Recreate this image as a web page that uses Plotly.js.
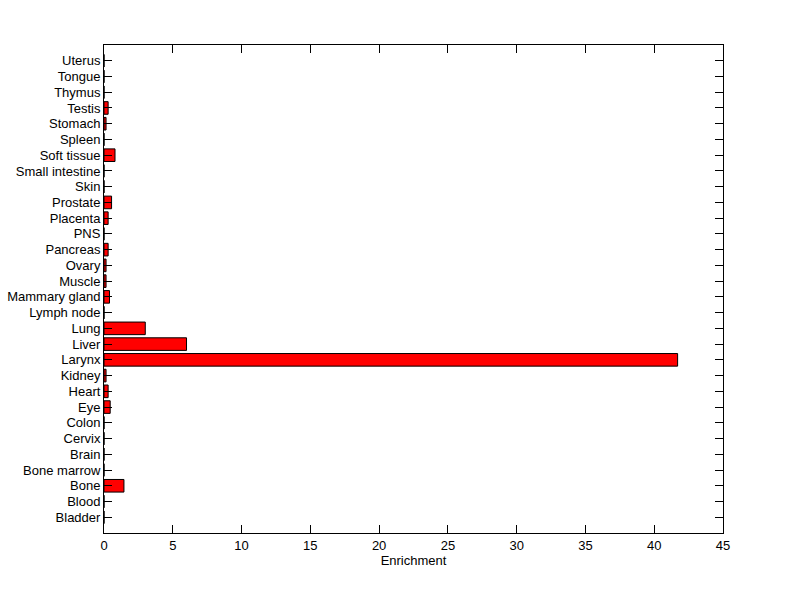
<!DOCTYPE html>
<html>
<head>
<meta charset="utf-8">
<script src="https://cdn.plot.ly/plotly-3.0.1.min.js"></script>
<style>html,body{margin:0;padding:0;background:#fff;}#chart{width:800px;height:599px;}</style>
</head>
<body>
<div id="chart"></div>
<script>
const tissues = ["Bladder","Blood","Bone","Bone marrow","Brain","Cervix","Colon","Eye","Heart","Kidney","Larynx","Liver","Lung","Lymph node","Mammary gland","Muscle","Ovary","Pancreas","PNS","Placenta","Prostate","Skin","Small intestine","Soft tissue","Spleen","Stomach","Testis","Thymus","Tongue","Uterus"];
const enrichment = [0,0,1.45,0,0,0,0,0.45,0.3,0.15,41.7,6.0,3.0,0,0.4,0.15,0.15,0.3,0,0.3,0.55,0,0,0.8,0,0.15,0.3,0,0,0];
const xTicks = [0,5,10,15,20,25,30,35,40,45];

const trace = {
  type: 'bar',
  orientation: 'h',
  x: enrichment,
  y: tissues.map((_, i) => i),
  marker: {color: '#ff0000', line: {color: '#000000', width: 1}},
  width: 0.8,
  hoverinfo: 'x+text',
  text: tissues,
  textposition: 'none'
};

const layout = {
  width: 800, height: 599,
  margin: {l: 104, r: 77, t: 45, b: 66},
  paper_bgcolor: '#ffffff',
  plot_bgcolor: '#ffffff',
  showlegend: false,
  font: {family: 'Liberation Sans, Arial, sans-serif', size: 13, color: '#000'},
  xaxis: {
    range: [0, 45],
    tickvals: xTicks,
    ticktext: xTicks.map(String),
    ticks: 'inside', ticklen: 8, tickcolor: '#000',
    showline: true, linecolor: '#000', linewidth: 1, mirror: 'ticks',
    showgrid: false, zeroline: false,
    title: {text: 'Enrichment', font: {size: 13}, standoff: 4},
    fixedrange: true
  },
  yaxis: {
    range: [-1, tissues.length],
    tickvals: tissues.map((_, i) => i),
    ticktext: tissues,
    ticks: 'inside', ticklen: 8, tickcolor: '#000',
    showline: true, linecolor: '#000', linewidth: 1, mirror: 'ticks',
    showgrid: false, zeroline: false,
    fixedrange: true
  }
};

Plotly.newPlot('chart', [trace], layout, {displayModeBar: false, staticPlot: true});
</script>
</body>
</html>
